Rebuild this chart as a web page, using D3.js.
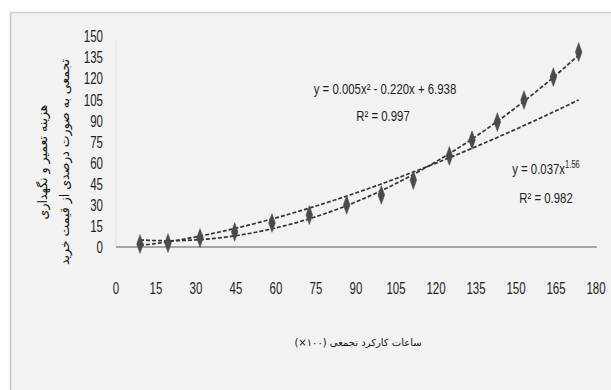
<!DOCTYPE html>
<html>
<head>
<meta charset="utf-8">
<script src="https://cdn.jsdelivr.net/npm/d3@7"></script>
<style>
  html, body { margin: 0; padding: 0; background: #ffffff; }
  svg { display: block; }
</style>
</head>
<body>
<svg id="chart" width="611" height="390"></svg>
<script>
// Cumulative operating hours (x100) and cumulative repair & maintenance cost (% of purchase price)
const hours = [9, 19.5, 31.5, 44.5, 58.5, 72.5, 86.5, 99.5, 111.5, 125, 133.5, 143, 153, 164, 173.5];
const cost  = [2.1, 2.8, 6.4, 10.7, 17.1, 22.7, 29.9, 37, 47.6, 64.7, 76, 88.8, 104.5, 120.8, 138.6];

const xTicks = [0, 15, 30, 45, 60, 75, 90, 105, 120, 135, 150, 165, 180];
const yTicks = [0, 15, 30, 45, 60, 75, 90, 105, 120, 135, 150];

const yTitleLines = ["هزینه تعمیر و نگهداری", "تجمعی به صورت درصدی از قیمت خرید"];
const xTitle = "ساعات کارکرد تجمعی (۱۰۰×)";

const polyLabel = ["y = 0.005x² - 0.220x + 6.938", "R² = 0.997"];
const powerLabel = ["y = 0.037x", "1.56", "R² = 0.982"];

const data = hours.map((h, i) => ({ x: h, y: cost[i] }));

const svg = d3.select("#chart");
const W = 611, H = 390;

// panel background and frame
svg.append("rect").attr("x", 10).attr("y", 12).attr("width", W - 10).attr("height", H - 12)
  .attr("fill", "#f2f2f2");
svg.append("line").attr("x1", 10.5).attr("x2", 10.5).attr("y1", 12).attr("y2", H)
  .attr("stroke", "#c4c4c4").attr("stroke-width", 1.5);
svg.append("line").attr("x1", 10).attr("x2", W).attr("y1", 12.5).attr("y2", 12.5)
  .attr("stroke", "#d0d0d0").attr("stroke-width", 1.5);

const x = d3.scaleLinear().domain([0, 180]).range([116, 596]);
const y = d3.scaleLinear().domain([0, 150]).range([247, 36]);

const numFont = "'Liberation Sans', sans-serif";

// condensed text placed at (px, py)
function narrowText(sel, px, py, anchor, size, sx, sy) {
  return sel.append("g").attr("transform", `translate(${px},${py}) scale(${sx},${sy || 1})`)
    .append("text").attr("dy", "0.36em").attr("text-anchor", anchor)
    .attr("font-family", numFont).attr("font-size", size).attr("fill", "#1e1e1e");
}

// y axis: faint spine + labels
svg.append("line").attr("x1", x(0)).attr("x2", x(0)).attr("y1", y(150) + 4).attr("y2", y(0))
  .attr("stroke", "#e2e2e2").attr("stroke-width", 1);
const gy = svg.append("g");
yTicks.forEach(d => narrowText(gy, 103, y(d), "end", 16, 0.72, 1.08).text(d));

// x axis line and labels
svg.append("line").attr("x1", x(0)).attr("x2", x(180) + 1).attr("y1", y(0)).attr("y2", y(0))
  .attr("stroke", "#a6a6a6").attr("stroke-width", 2);
const gx = svg.append("g");
xTicks.forEach(d => narrowText(gx, x(d), 288, "middle", 16, 0.72, 1.08).text(d));

// least-squares quadratic fit
function quadFit(pts) {
  let s = Array(5).fill(0), t = Array(3).fill(0);
  pts.forEach(p => {
    for (let k = 0; k < 5; k++) s[k] += Math.pow(p.x, k);
    for (let k = 0; k < 3; k++) t[k] += p.y * Math.pow(p.x, k);
  });
  const A = [[s[0], s[1], s[2], t[0]], [s[1], s[2], s[3], t[1]], [s[2], s[3], s[4], t[2]]];
  for (let i = 0; i < 3; i++) {
    for (let j = i + 1; j < 3; j++) {
      const f = A[j][i] / A[i][i];
      for (let k = i; k < 4; k++) A[j][k] -= f * A[i][k];
    }
  }
  const c = [0, 0, 0];
  for (let i = 2; i >= 0; i--) {
    let v = A[i][3];
    for (let k = i + 1; k < 3; k++) v -= A[i][k] * c[k];
    c[i] = v / A[i][i];
  }
  return v => c[0] + c[1] * v + c[2] * v * v;
}
// power fit via log-log regression
function powerFit(pts) {
  const lx = pts.map(p => Math.log(p.x)), ly = pts.map(p => Math.log(p.y));
  const mx = d3.mean(lx), my = d3.mean(ly);
  const b = d3.sum(lx.map((v, i) => (v - mx) * (ly[i] - my))) / d3.sum(lx.map(v => (v - mx) ** 2));
  const a = Math.exp(my - b * mx);
  return v => a * Math.pow(v, b);
}

const qf = quadFit(data), pf = powerFit(data);
const xs = d3.range(hours[0], hours[hours.length - 1] + 0.01, 1);
xs.push(hours[hours.length - 1]);
const line = d3.line().x(d => x(d[0])).y(d => y(d[1]));

[pf, qf].forEach(f => {
  svg.append("path").datum(xs.map(v => [v, f(v)])).attr("d", line)
    .attr("fill", "none").attr("stroke", "#333").attr("stroke-width", 1.7)
    .attr("stroke-dasharray", "4,2");
});

// markers
svg.append("g").selectAll("path").data(data).join("path")
  .attr("transform", d => `translate(${x(d.x)},${y(d.y)}) scale(0.8,1.3)`)
  .attr("d", d3.symbol().type(d3.symbolDiamond).size(60))
  .attr("fill", "#4a4a4a").attr("stroke", "#4a4a4a").attr("stroke-width", 0.5);

// trend line labels
const lab = svg.append("g");
narrowText(lab, 385, 89, "middle", 15, 0.76).text(polyLabel[0]);
narrowText(lab, 383, 116, "middle", 15, 0.76).text(polyLabel[1]);
const pt = narrowText(lab, 546, 169, "middle", 15, 0.76);
pt.append("tspan").text(powerLabel[0]);
pt.append("tspan").attr("dy", "-6").attr("font-size", 10).text(powerLabel[1]);
narrowText(lab, 546, 198, "middle", 15, 0.76).text(powerLabel[2]);

// axis titles
const arFont = "'DejaVu Sans', 'Noto Sans', sans-serif";
const yt = svg.append("g").attr("transform", "translate(53,162) rotate(-90)");
yTitleLines.forEach((t, i) => {
  yt.append("text").attr("x", 0).attr("y", i * 22 - 11).attr("dy", "0.36em")
    .attr("text-anchor", "middle").attr("font-family", arFont).attr("font-size", 12.5)
    .attr("fill", "#111").attr("direction", "rtl").attr("unicode-bidi", "embed").text(t);
});
svg.append("text").attr("x", 358).attr("y", 342).attr("dy", "0.36em")
  .attr("text-anchor", "middle").attr("font-family", arFont).attr("font-size", 10)
  .attr("fill", "#111").attr("direction", "rtl").text(xTitle);
</script>
</body>
</html>
